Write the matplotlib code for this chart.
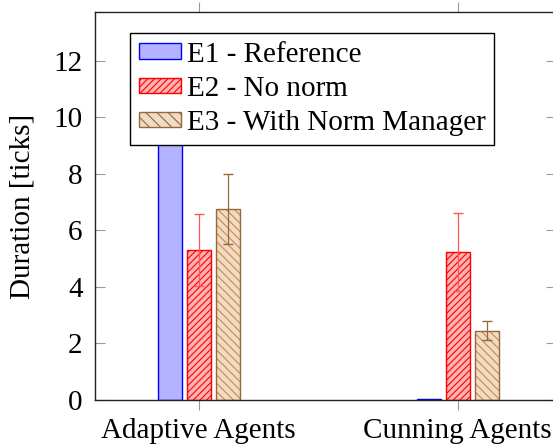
import numpy as np
import matplotlib.pyplot as plt
from matplotlib.patches import Patch

plt.rcParams['font.family'] = 'Liberation Serif'
plt.rcParams['font.size'] = 21
plt.rcParams['hatch.linewidth'] = 0.8

# data
groups = ['Adaptive Agents', 'Cunning Agents']
e1_vals = [10.5, 0.02]
e2_vals = [5.31, 5.23]
e2_err = [1.26, 1.38]
e3_vals = [6.75, 2.45]
e3_err = [1.24, 0.33]
labels = ['E1 - Reference', 'E2 - No norm', 'E3 - With Norm Manager']

x = np.arange(len(groups))
w = 0.093
step = 0.112

fig = plt.figure(figsize=(5.53, 4.48), dpi=100)
ax = fig.add_axes([0.1718, 0.1071, 0.8336, 0.8661])

b1 = ax.bar(x - step, e1_vals, w, color='#b3b3ff', edgecolor='blue', linewidth=1.0)
b2 = ax.bar(x, e2_vals, w, color='#ffb3b3', edgecolor='red', linewidth=1.0, hatch='/////')
ax.errorbar(x, e2_vals, yerr=e2_err, fmt='none', ecolor='#ff5555', elinewidth=0.9, capsize=3.3)
# brown bars: hatch in a lighter orange, outline in brown
ax.bar(x + step, e3_vals, w, color='#f0dcc6', edgecolor='#cc8844', linewidth=0, hatch='\\\\\\\\')
ax.bar(x + step, e3_vals, w, fill=False, edgecolor='#94683c', linewidth=1.0)
ax.errorbar(x + step, e3_vals, yerr=e3_err, fmt='none', ecolor='#94683c', elinewidth=0.9, capsize=3.3)

p3 = Patch(facecolor='#f0dcc6', edgecolor='#94683c', hatch='\\\\\\', linewidth=1.0)

ax.set_xlim(-0.40, 1.38)
ax.set_ylim(0, 13.73)
ax.set_xticks(x)
ax.set_xticklabels(groups)
ax.set_yticks(np.arange(0, 13, 2))
ax.set_ylabel('Duration [ticks]', labelpad=13)

ax.tick_params(axis='y', direction='in', length=7, color='#999999', width=0.8, right=True, pad=9)
ax.tick_params(axis='x', direction='out', length=7, color='#999999', width=0.8, top=True, pad=6)
for s in ax.spines.values():
    s.set_linewidth(1.0)
    s.set_color('#222222')

leg = ax.legend([b1, b2, p3], labels, loc='upper left', bbox_to_anchor=(0.076, 0.946),
                borderaxespad=0, fancybox=False, edgecolor='black', framealpha=1,
                handlelength=1.45, handleheight=0.45, handletextpad=0.2,
                labelspacing=0.28, borderpad=0.3)
leg.get_frame().set_linewidth(1.0)

plt.savefig('out.png', dpi=100)
